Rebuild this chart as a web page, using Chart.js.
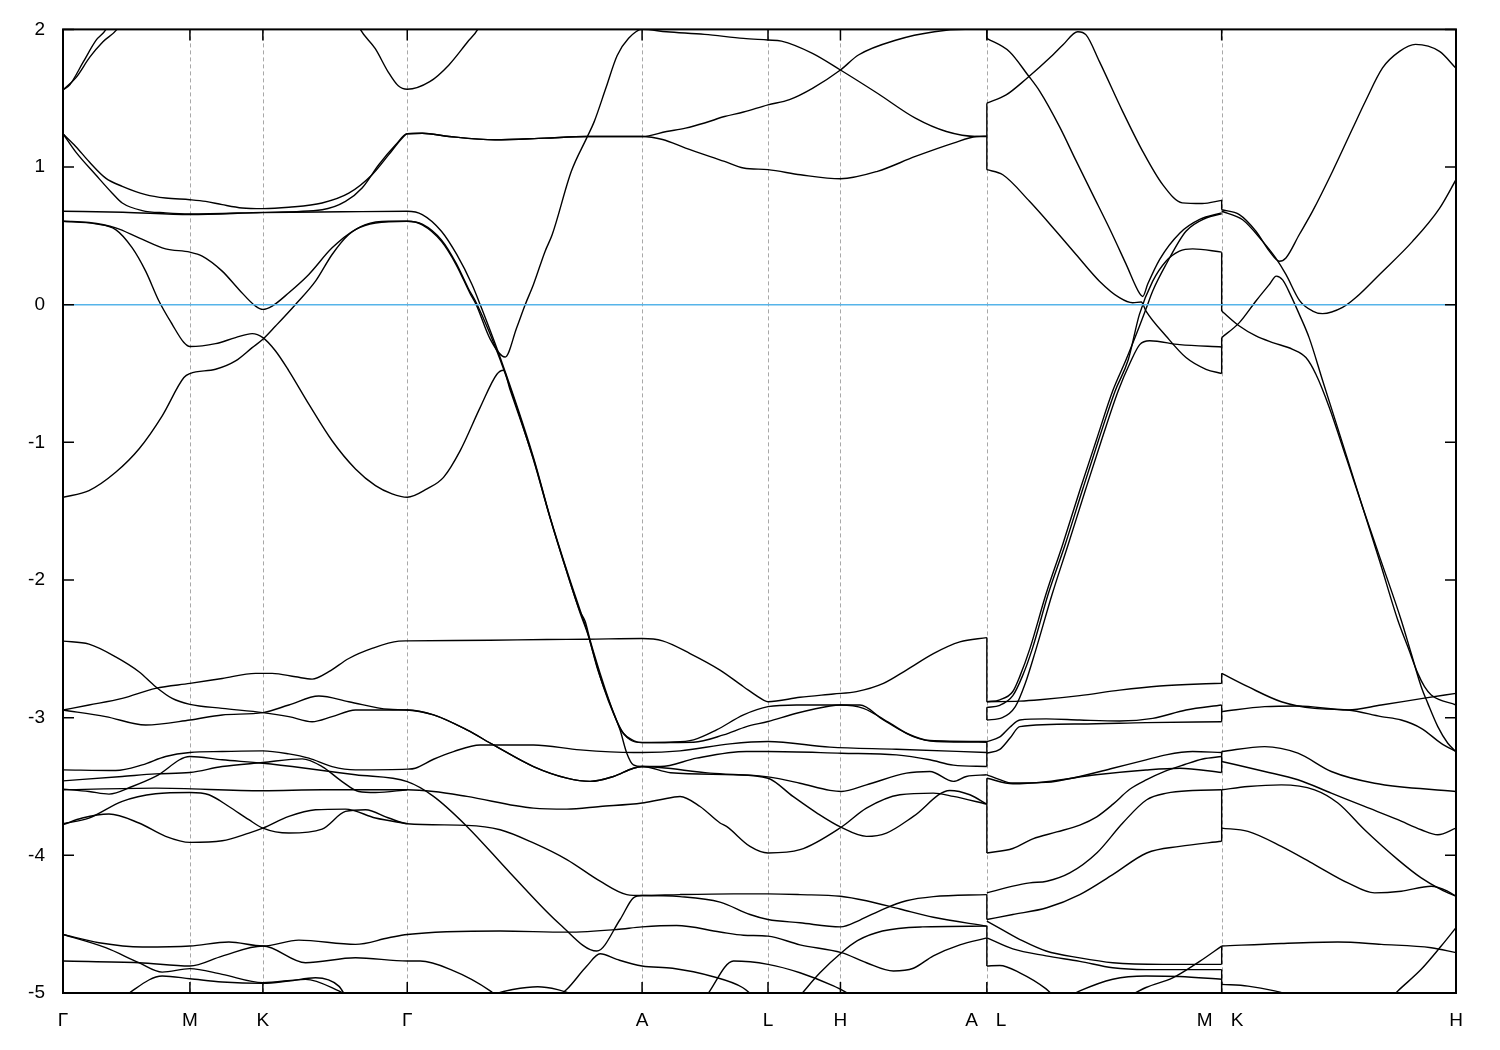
<!DOCTYPE html>
<html lang="en">
<head>
<meta charset="UTF-8">
<title>Band structure</title>
<script src="https://cdn.jsdelivr.net/npm/chart.js@4.4.1/dist/chart.umd.min.js"></script>
<style>
  html, body { margin: 0; padding: 0; background: #fff; }
  #wrap { width: 1500px; height: 1050px; }
</style>
</head>
<body>
<div id="wrap"><canvas id="bands"></canvas></div>
<script>
// high symmetry points along the k path (path length units)
const kTicks = [0, 1.27, 2.0, 3.445, 5.795, 7.055, 7.78, 9.245, 11.595, 13.94];
const kLabels = ["Γ", "M", "K", "Γ", "A", "L", "H", "A|L", "M|K", "H"];
const yTicks = [2, 1, 0, -1, -2, -3, -4, -5];
const fermiLevel = 0;

// ---- Γ-M-K-Γ-A-L-H-A (energies in eV) ----
const bandT1 = [[0,1.56],[0.07,1.6],[0.2,1.76],[0.33,1.92],[0.43,2.0],[0.5,2.12]];
const bandT2 = [[0,1.56],[0.13,1.65],[0.27,1.8],[0.4,1.91],[0.54,2.0],[0.62,2.1]];
const bandT3 = [[2.9,2.12],[2.975,2.0],[3.125,1.86],[3.255,1.69],[3.355,1.59],[3.445,1.565],[3.67,1.62],[3.86,1.74],[4.05,1.91],[4.15,2.0],[4.22,2.12]];
const bandU1 = [[0,1.242],[0.127,1.15],[0.26,1.04],[0.427,0.92],[0.593,0.86],[0.827,0.80],[1.027,0.775],[1.27,0.763],[1.427,0.751],[1.593,0.727],[1.793,0.703],[2.0,0.698],[2.26,0.708],[2.593,0.739],[2.86,0.81],[3.093,0.944],[3.26,1.09],[3.393,1.21],[3.445,1.242],[3.595,1.246],[3.863,1.222],[4.322,1.198],[4.819,1.21],[5.24,1.222],[5.795,1.222],[6.04,1.258],[6.23,1.283],[6.42,1.32],[6.62,1.367],[6.81,1.40],[7.055,1.452],[7.27,1.49],[7.5,1.572],[7.78,1.705],[7.96,1.814],[8.34,1.923],[8.72,1.983],[9.03,2.0],[9.245,2.0]];
const bandU2 = [[0,1.242],[0.127,1.11],[0.327,0.944],[0.493,0.81],[0.593,0.739],[0.793,0.684],[1.027,0.667],[1.27,0.659],[2.0,0.671],[2.593,0.69],[2.827,0.75],[2.993,0.848],[3.16,1.017],[3.327,1.16],[3.445,1.242],[3.595,1.246],[3.863,1.222],[4.322,1.198],[4.819,1.21],[5.24,1.222],[5.795,1.222],[6.0,1.2],[6.23,1.138],[6.62,1.041],[6.81,0.993],[7.055,0.981],[7.38,0.944],[7.78,0.915],[8.15,0.969],[8.53,1.077],[8.91,1.174],[9.14,1.222],[9.245,1.225]];
const bandF = [[0,0.679],[0.6,0.672],[1.27,0.655],[2.0,0.669],[2.8,0.675],[3.445,0.679],[3.595,0.655],[3.787,0.534],[3.94,0.365],[4.093,0.147],[4.175,0.0],[4.375,-0.384],[4.708,-1.109],[4.875,-1.543],[5.042,-1.93],[5.175,-2.22],[5.242,-2.364],[5.308,-2.534],[5.408,-2.775],[5.508,-2.968],[5.608,-3.113],[5.708,-3.166],[5.795,-3.181],[6.075,-3.178],[6.31,-3.161],[6.54,-3.089],[6.81,-2.98],[7.055,-2.92],[7.34,-2.908],[7.78,-2.908],[7.975,-2.908],[8.21,-3.016],[8.44,-3.113],[8.675,-3.166],[9.245,-3.173]];
const bandV1 = [[0,0.606],[0.26,0.597],[0.527,0.558],[0.76,0.486],[1.027,0.406],[1.27,0.382],[1.393,0.353],[1.593,0.244],[1.76,0.111],[1.927,-0.01],[2.0,-0.034],[2.093,-0.01],[2.26,0.087],[2.46,0.22],[2.693,0.413],[2.927,0.546],[3.127,0.594],[3.445,0.606],[3.595,0.585],[3.787,0.47],[3.935,0.3],[4.055,0.12],[4.145,0.0],[4.375,-0.40],[4.705,-1.12],[4.875,-1.55],[5.045,-1.95],[5.175,-2.24],[5.255,-2.40],[5.355,-2.66],[5.475,-2.90],[5.575,-3.08],[5.675,-3.16],[5.795,-3.18],[6.31,-3.178],[6.61,-3.125],[6.84,-3.065],[7.055,-3.028],[7.34,-2.968],[7.675,-2.915],[7.78,-2.908],[8.01,-2.932],[8.275,-3.04],[8.51,-3.137],[8.74,-3.173],[9.245,-3.178]];
const bandV2 = [[0,0.606],[0.327,0.587],[0.527,0.546],[0.693,0.413],[0.827,0.244],[0.96,0.027],[1.093,-0.143],[1.21,-0.275],[1.27,-0.304],[1.527,-0.283],[1.727,-0.239],[1.893,-0.21],[2.0,-0.239],[2.127,-0.336],[2.26,-0.48],[2.46,-0.722],[2.693,-0.988],[2.927,-1.193],[3.127,-1.314],[3.293,-1.374],[3.445,-1.399],[3.642,-1.338],[3.808,-1.254],[3.975,-1.06],[4.175,-0.746],[4.342,-0.505],[4.408,-0.476],[4.475,-0.62],[4.708,-1.12],[4.875,-1.55],[5.042,-1.94],[5.175,-2.23],[5.225,-2.30],[5.275,-2.437],[5.375,-2.678],[5.475,-2.896],[5.575,-3.09],[5.642,-3.258],[5.708,-3.343],[5.795,-3.355],[5.98,-3.355],[6.34,-3.294],[6.84,-3.246],[7.055,-3.246],[7.79,-3.258],[8.34,-3.27],[8.675,-3.306],[8.91,-3.345],[9.245,-3.355]];
const bandV3 = [[0,-1.399],[0.26,-1.35],[0.527,-1.217],[0.76,-1.048],[0.993,-0.807],[1.21,-0.529],[1.27,-0.5],[1.527,-0.469],[1.727,-0.408],[1.893,-0.312],[2.0,-0.251],[2.127,-0.155],[2.327,0.002],[2.527,0.171],[2.693,0.365],[2.86,0.51],[3.027,0.582],[3.26,0.606],[3.445,0.606],[3.595,0.58],[3.787,0.46],[3.935,0.29],[4.075,0.08],[4.135,0.0],[4.275,-0.25],[4.425,-0.38],[4.54,-0.167],[4.625,0.0],[4.708,0.147],[4.825,0.389],[4.896,0.51],[5.087,0.969],[5.24,1.21],[5.316,1.33],[5.431,1.57],[5.546,1.81],[5.66,1.935],[5.795,2.0],[6.04,1.983],[6.42,1.964],[6.81,1.935],[7.055,1.923],[7.19,1.915],[7.5,1.826],[7.78,1.705],[8.15,1.536],[8.53,1.355],[8.84,1.258],[9.14,1.222],[9.245,1.222]];
const bandL1 = [[0,-2.444],[0.26,-2.466],[0.527,-2.558],[0.76,-2.666],[0.927,-2.775],[1.093,-2.86],[1.27,-2.903],[1.593,-2.932],[2.0,-2.963],[2.26,-2.992],[2.493,-3.029],[2.693,-2.992],[2.927,-2.944],[3.193,-2.944],[3.445,-2.944],[3.708,-2.98],[4.042,-3.089],[4.308,-3.198],[4.708,-3.355],[5.042,-3.439],[5.275,-3.463],[5.508,-3.427],[5.708,-3.367],[5.795,-3.355],[6.08,-3.40],[6.71,-3.415],[7.055,-3.44],[7.305,-3.572],[7.545,-3.693],[7.78,-3.794],[8.04,-3.862],[8.24,-3.838],[8.51,-3.717],[8.875,-3.529],[9.075,-3.56],[9.245,-3.628]];
const bandL2 = [[0,-2.944],[0.26,-2.908],[0.593,-2.86],[0.927,-2.787],[1.27,-2.751],[1.593,-2.715],[1.927,-2.678],[2.093,-2.678],[2.327,-2.703],[2.493,-2.72],[2.66,-2.666],[2.86,-2.57],[3.093,-2.497],[3.36,-2.444],[3.445,-2.442],[4.275,-2.437],[4.842,-2.432],[5.242,-2.43],[5.795,-2.425],[6.0,-2.442],[6.275,-2.534],[6.575,-2.654],[6.81,-2.775],[7.01,-2.872],[7.055,-2.884],[7.375,-2.852],[7.71,-2.828],[7.94,-2.811],[8.21,-2.751],[8.44,-2.654],[8.71,-2.534],[8.975,-2.449],[9.245,-2.418]];
const bandL3 = [[0,-2.944],[0.427,-2.992],[0.827,-3.053],[1.27,-3.017],[1.593,-2.98],[2.0,-2.963],[2.26,-2.908],[2.56,-2.843],[2.86,-2.884],[3.26,-2.939],[3.445,-2.944],[3.708,-2.98],[4.042,-3.089],[4.308,-3.198],[4.708,-3.355],[5.042,-3.439],[5.275,-3.463],[5.508,-3.427],[5.708,-3.367],[5.795,-3.355],[6.475,-3.403],[7.055,-3.43],[7.375,-3.476],[7.675,-3.528],[7.79,-3.536],[8.04,-3.488],[8.44,-3.403],[8.675,-3.391],[8.91,-3.463],[9.04,-3.427],[9.245,-3.415]];
const bandL4 = [[0,-3.379],[0.527,-3.384],[0.793,-3.343],[1.027,-3.282],[1.27,-3.253],[1.593,-3.246],[2.0,-3.241],[2.26,-3.263],[2.46,-3.294],[2.693,-3.355],[2.927,-3.379],[3.445,-3.374],[3.525,-3.367],[3.708,-3.302],[3.908,-3.246],[4.175,-3.198],[4.708,-3.198],[5.175,-3.234],[5.708,-3.253],[5.795,-3.253],[6.175,-3.241],[6.675,-3.19],[7.055,-3.173],[7.675,-3.214],[8.34,-3.229],[9.245,-3.253]];
const bandL5 = [[0,-3.459],[0.593,-3.427],[0.927,-3.408],[1.27,-3.398],[1.593,-3.355],[2.0,-3.326],[2.393,-3.299],[2.593,-3.355],[2.793,-3.464],[2.96,-3.536],[3.127,-3.543],[3.445,-3.524]];
const bandL6 = [[0,-3.519],[0.26,-3.536],[0.46,-3.555],[0.693,-3.5],[0.927,-3.427],[1.27,-3.282],[1.593,-3.306],[2.0,-3.331],[2.427,-3.367],[2.927,-3.415],[3.445,-3.465],[3.708,-3.572],[4.042,-3.79],[4.475,-4.128],[4.975,-4.502],[5.342,-4.695],[5.575,-4.466],[5.708,-4.309],[5.795,-4.292],[6.175,-4.30],[6.575,-4.34],[6.875,-4.43],[7.055,-4.466],[7.375,-4.49],[7.78,-4.52],[7.975,-4.47],[8.21,-4.39],[8.44,-4.33],[8.71,-4.30],[9.245,-4.285]];
const bandL7 = [[0,-3.524],[0.927,-3.512],[2.0,-3.531],[2.593,-3.524],[3.445,-3.524],[3.708,-3.536],[4.042,-3.572],[4.708,-3.657],[5.042,-3.664],[5.375,-3.645],[5.795,-3.62],[5.975,-3.596],[6.175,-3.572],[6.375,-3.645],[6.575,-3.765],[6.64,-3.79],[6.875,-3.935],[7.055,-3.983],[7.375,-3.959],[7.79,-3.794],[8.04,-3.657],[8.375,-3.56],[8.71,-3.548],[8.91,-3.572],[9.245,-3.628]];
const bandL8 = [[0,-3.77],[0.26,-3.729],[0.593,-3.608],[0.927,-3.553],[1.27,-3.543],[1.46,-3.56],[1.66,-3.645],[1.86,-3.741],[2.0,-3.802],[2.26,-3.838],[2.593,-3.809],[2.827,-3.681],[3.027,-3.669],[3.26,-3.729],[3.445,-3.77],[4.042,-3.782],[4.375,-3.814],[4.708,-3.91],[5.042,-4.031],[5.375,-4.188],[5.642,-4.285],[5.795,-4.292],[6.175,-4.285],[6.71,-4.28],[7.055,-4.28],[7.375,-4.285],[7.78,-4.297],[8.04,-4.33],[8.375,-4.39],[8.71,-4.45],[9.245,-4.514]];
const bandL9 = [[0,-3.777],[0.193,-3.729],[0.46,-3.7],[0.76,-3.765],[1.027,-3.862],[1.27,-3.906],[1.593,-3.894],[1.86,-3.838],[2.0,-3.802],[2.26,-3.717],[2.527,-3.669],[2.827,-3.664],[3.127,-3.729],[3.445,-3.77]];
const bandL10 = [[0,-4.575],[0.36,-4.635],[0.793,-4.666],[1.27,-4.659],[1.66,-4.63],[2.0,-4.659],[2.36,-4.616],[2.927,-4.647],[3.26,-4.599],[3.445,-4.575],[4.375,-4.55],[5.042,-4.558],[5.542,-4.539],[5.795,-4.52],[6.14,-4.51],[6.575,-4.557],[6.81,-4.58],[7.055,-4.587],[7.375,-4.65],[7.79,-4.707],[8.04,-4.78],[8.31,-4.84],[8.51,-4.82],[8.71,-4.73],[8.975,-4.65],[9.245,-4.60]];
const bandL11 = [[0,-4.575],[0.427,-4.671],[0.76,-4.78],[0.993,-4.848],[1.27,-4.823],[1.593,-4.865],[2.0,-4.925],[2.427,-4.901],[2.76,-4.985],[2.927,-5.05]];
const bandL12 = [[0,-4.768],[0.76,-4.78],[1.27,-4.804],[1.593,-4.732],[2.0,-4.659],[2.427,-4.78],[2.927,-4.744],[3.445,-4.768],[3.575,-4.768],[3.875,-4.828],[4.275,-4.985],[4.375,-5.05]];
const bandL13 = [[0.593,-5.05],[0.693,-4.985],[0.993,-4.877],[1.27,-4.896],[1.593,-4.92],[2.0,-4.93],[2.26,-4.913],[2.527,-4.889],[2.76,-4.95],[2.85,-5.05]];
const bandM9 = [[4.908,-5.05],[5.042,-4.973],[5.242,-4.804],[5.375,-4.715],[5.542,-4.756],[5.795,-4.804],[6.1,-4.82],[6.5,-4.88],[6.8,-4.96],[6.95,-5.05]];
const bandBump = [[4.3,-5.01],[4.5,-4.975],[4.75,-4.955],[4.95,-4.975],[5.1,-5.01]];
const bandN1 = [[6.44,-5.02],[6.71,-4.768],[7.055,-4.792],[7.375,-4.853],[7.71,-4.949],[7.9,-5.02]];
const bandN2 = [[7.375,-5.02],[7.575,-4.853],[7.79,-4.707],[7.95,-4.62],[8.2,-4.55],[8.6,-4.52],[9.245,-4.514]];

// ---- L-M ----
const bandY1 = [[9.245,1.935],[9.472,1.838],[9.655,1.669],[9.775,1.55],[9.975,1.29],[10.135,1.05],[10.305,0.80],[10.475,0.55],[10.635,0.30],[10.775,0.08],[10.805,0.06],[10.855,0.15],[10.975,0.33],[11.175,0.52],[11.375,0.62],[11.595,0.667]];
const bandY2 = [[9.245,1.464],[9.438,1.524],[9.638,1.64],[9.905,1.814],[10.005,1.886],[10.155,1.983],[10.238,1.96],[10.372,1.766],[10.605,1.403],[10.805,1.114],[11.005,0.872],[11.2,0.74],[11.4,0.735],[11.595,0.758]];
const bandY3 = [[9.245,0.981],[9.405,0.944],[9.672,0.751],[9.938,0.534],[10.138,0.365],[10.372,0.171],[10.572,0.051],[10.705,0.014],[10.79,0.02],[10.838,-0.046],[11.038,-0.227],[11.238,-0.384],[11.438,-0.469],[11.595,-0.50]];
const bandZ1 = [[9.245,-2.884],[9.375,-2.87],[9.505,-2.81],[9.575,-2.70],[9.675,-2.50],[9.838,-2.10],[10.005,-1.74],[10.175,-1.35],[10.338,-0.99],[10.505,-0.625],[10.638,-0.40],[10.77,-0.16],[10.838,-0.03],[10.905,0.1],[11.038,0.292],[11.238,0.534],[11.438,0.63],[11.595,0.66]];
const bandZ3 = [[9.245,-2.925],[9.375,-2.91],[9.505,-2.84],[9.6,-2.70],[9.7,-2.50],[9.86,-2.10],[10.03,-1.74],[10.2,-1.35],[10.36,-0.99],[10.53,-0.625],[10.66,-0.40],[10.772,-0.07],[10.905,0.171],[11.038,0.316],[11.172,0.389],[11.305,0.406],[11.595,0.382]];
const bandZ4 = [[9.245,-3.017],[9.4,-3.0],[9.53,-2.92],[9.63,-2.75],[9.73,-2.52],[9.9,-2.10],[10.06,-1.74],[10.23,-1.35],[10.39,-0.99],[10.56,-0.625],[10.68,-0.42],[10.775,-0.29],[10.875,-0.262],[11.175,-0.29],[11.595,-0.307]];
const bandG1 = [[9.245,-2.884],[9.575,-2.88],[9.775,-2.87],[10.175,-2.84],[10.575,-2.80],[10.975,-2.77],[11.375,-2.755],[11.595,-2.751]];
const bandG2 = [[9.245,-3.174],[9.375,-3.14],[9.475,-3.07],[9.575,-3.017],[9.838,-3.009],[10.175,-3.017],[10.575,-3.024],[10.905,-3.005],[11.238,-2.944],[11.595,-2.908]];
const bandG3 = [[9.245,-3.258],[9.375,-3.23],[9.475,-3.15],[9.575,-3.065],[10.175,-3.046],[10.838,-3.036],[11.595,-3.029]];
const bandH1 = [[9.245,-3.415],[9.375,-3.45],[9.5,-3.475],[9.838,-3.47],[10.175,-3.427],[10.505,-3.367],[10.838,-3.306],[11.038,-3.27],[11.305,-3.246],[11.595,-3.253]];
const bandH2 = [[9.245,-3.44],[9.505,-3.48],[9.838,-3.465],[10.338,-3.415],[10.838,-3.38],[11.175,-3.367],[11.595,-3.398]];
const bandH3 = [[9.245,-3.983],[9.505,-3.95],[9.705,-3.88],[9.945,-3.83],[10.175,-3.78],[10.345,-3.72],[10.505,-3.63],[10.675,-3.52],[10.845,-3.45],[11.025,-3.39],[11.225,-3.34],[11.405,-3.30],[11.595,-3.282]];
const bandH4 = [[9.245,-4.273],[9.505,-4.224],[9.675,-4.20],[9.845,-4.188],[10.075,-4.128],[10.345,-3.983],[10.605,-3.765],[10.845,-3.596],[11.045,-3.548],[11.305,-3.529],[11.595,-3.524]];
const bandH5 = [[9.245,-4.466],[9.505,-4.43],[9.845,-4.381],[10.175,-4.285],[10.505,-4.14],[10.845,-3.983],[11.175,-3.935],[11.595,-3.898]];
const bandJ1 = [[9.245,-4.478],[9.375,-4.53],[9.6,-4.62],[9.838,-4.695],[10.175,-4.745],[10.505,-4.78],[11.005,-4.792],[11.595,-4.792]];
const bandJ2 = [[9.245,-4.599],[9.505,-4.68],[9.838,-4.73],[10.175,-4.77],[10.505,-4.817],[10.838,-4.83],[11.595,-4.83]];
const bandJ3 = [[9.245,-4.804],[9.375,-4.80],[9.575,-4.853],[9.838,-4.97],[9.95,-5.05]];
const bandJ3b = [[10.0,-5.05],[10.175,-4.985],[10.505,-4.9],[10.838,-4.876],[11.175,-4.88],[11.595,-4.9]];
const bandJ4 = [[10.6,-5.05],[10.838,-4.96],[11.105,-4.89],[11.375,-4.77],[11.595,-4.659]];

// ---- K-H ----
const bandK1 = [[11.595,0.69],[11.772,0.655],[11.938,0.534],[12.072,0.389],[12.172,0.316],[12.238,0.34],[12.372,0.51],[12.505,0.68],[12.705,0.97],[12.905,1.28],[13.035,1.48],[13.205,1.72],[13.375,1.84],[13.535,1.891],[13.775,1.84],[13.94,1.717]];
const bandK2 = [[11.595,0.679],[11.805,0.617],[12.005,0.46],[12.135,0.34],[12.238,0.22],[12.375,0.03],[12.505,-0.046],[12.605,-0.065],[12.805,-0.02],[12.935,0.05],[13.175,0.22],[13.505,0.46],[13.775,0.70],[13.94,0.908]];
const bandK3 = [[11.595,-0.239],[11.772,-0.13],[11.938,0.027],[12.072,0.147],[12.142,0.208],[12.205,0.18],[12.285,0.07],[12.372,-0.07],[12.47,-0.239],[12.605,-0.55],[12.845,-1.1],[13.005,-1.47],[13.175,-1.86],[13.358,-2.292],[13.458,-2.485],[13.558,-2.678],[13.625,-2.775],[13.692,-2.835],[13.94,-2.908]];
const bandK4 = [[11.595,-0.046],[11.772,-0.155],[11.938,-0.227],[12.105,-0.275],[12.305,-0.324],[12.438,-0.384],[12.538,-0.505],[12.672,-0.746],[12.845,-1.12],[13.005,-1.47],[13.175,-1.83],[13.392,-2.292],[13.492,-2.534],[13.592,-2.775],[13.658,-2.896],[13.758,-3.065],[13.858,-3.186],[13.94,-3.246]];
const bandK5 = [[11.595,-2.678],[11.858,-2.775],[12.192,-2.884],[12.525,-2.932],[12.858,-2.944],[13.192,-2.992],[13.392,-3.017],[13.592,-3.077],[13.792,-3.186],[13.94,-3.246]];
const bandK6 = [[11.595,-2.956],[12.025,-2.92],[12.358,-2.915],[12.858,-2.944],[13.192,-2.908],[13.608,-2.86],[13.94,-2.823]];
const bandK7 = [[11.595,-3.246],[12.025,-3.21],[12.358,-3.258],[12.692,-3.391],[13.125,-3.476],[13.94,-3.536]];
const bandK8 = [[11.595,-3.318],[12.025,-3.391],[12.358,-3.451],[12.692,-3.548],[13.025,-3.645],[13.358,-3.741],[13.592,-3.814],[13.758,-3.85],[13.94,-3.802]];
const bandK9 = [[11.595,-3.524],[11.858,-3.5],[12.192,-3.488],[12.525,-3.524],[12.758,-3.62],[13.025,-3.814],[13.358,-4.031],[13.592,-4.164],[13.792,-4.249],[13.94,-4.297]];
const bandK10 = [[11.595,-3.802],[11.858,-3.826],[12.192,-3.935],[12.525,-4.067],[12.858,-4.2],[13.125,-4.273],[13.392,-4.261],[13.692,-4.224],[13.858,-4.261],[13.94,-4.297]];
const bandK11 = [[11.595,-4.659],[12.192,-4.64],[12.758,-4.63],[13.192,-4.647],[13.692,-4.671],[13.94,-4.707]];
const bandK12 = [[13.2,-5.1],[13.358,-4.985],[13.592,-4.828],[13.792,-4.659],[13.94,-4.526]];
const bandK13 = [[11.595,-4.937],[11.858,-4.95],[12.125,-4.985],[12.3,-5.02]];

// vertical jumps where the path is discontinuous: [E at end of left segment, E at start of right]
const jumpAL = [[2.0,1.935],[1.464,0.981],[-2.418,-2.884],[-2.925,-3.017],[-3.173,-3.355],[-3.44,-3.983],[-4.285,-4.466],[-4.514,-4.599],[-4.6,-4.804]];
const jumpMK = [[0.763,0.69],[0.382,-0.046],[-0.239,-0.50],[-2.678,-2.751],[-2.908,-3.029],[-3.246,-3.398],[-3.524,-3.898],[-4.659,-4.792],[-4.83,-4.937]];

const bands = [bandT1, bandT2, bandT3, bandU1, bandU2, bandF, bandV1, bandV2, bandV3,
  bandL1, bandL2, bandL3, bandL4, bandL5, bandL6, bandL7, bandL8, bandL9, bandL10, bandL11, bandL12, bandL13,
  bandM9, bandBump, bandN1, bandN2,
  bandY1, bandY2, bandY3, bandZ1, bandZ3, bandZ4, bandG1, bandG2, bandG3,
  bandH1, bandH2, bandH3, bandH4, bandH5, bandJ1, bandJ2, bandJ3, bandJ3b, bandJ4,
  bandK1, bandK2, bandK3, bandK4, bandK5, bandK6, bandK7, bandK8, bandK9, bandK10, bandK11, bandK12, bandK13];

const toXY = arr => arr.map(([x, y]) => ({ x, y }));
const lineStyle = { borderColor: "#000", borderWidth: 1.4, pointRadius: 0, fill: false };

const datasets = [];
// Fermi level first so it is drawn on top
datasets.push({ ...lineStyle, borderColor: "#56b4e9", borderWidth: 1.6, tension: 0,
  data: [{ x: kTicks[0], y: fermiLevel }, { x: kTicks[kTicks.length - 1], y: fermiLevel }] });
bands.forEach(b => datasets.push({ ...lineStyle, cubicInterpolationMode: "monotone", data: toXY(b) }));
jumpAL.forEach(([a, b]) => datasets.push({ ...lineStyle, tension: 0, data: [{ x: kTicks[7], y: a }, { x: kTicks[7], y: b }] }));
jumpMK.forEach(([a, b]) => datasets.push({ ...lineStyle, tension: 0, data: [{ x: kTicks[8], y: a }, { x: kTicks[8], y: b }] }));

const FONT = '"Liberation Sans", Arial, sans-serif';

// dashed lines at the symmetry points, drawn under the bands
const symLines = {
  id: "symLines",
  beforeDatasetsDraw(chart) {
    const { ctx, chartArea: a, scales: { x } } = chart;
    ctx.save();
    ctx.strokeStyle = "#a8a8a8";
    ctx.lineWidth = 1;
    ctx.setLineDash([4, 3]);
    kTicks.slice(1, -1).forEach(v => {
      const p = Math.round(x.getPixelForValue(v)) + 0.5;
      ctx.beginPath();
      ctx.moveTo(p, a.top);
      ctx.lineTo(p, a.bottom);
      ctx.stroke();
    });
    ctx.restore();
  }
};

// gnuplot-like frame, mirrored tics and the k-point labels
const frame = {
  id: "frame",
  afterDatasetsDraw(chart) {
    const { ctx, chartArea: a, scales: { x, y } } = chart;
    ctx.save();
    ctx.strokeStyle = "#000";
    ctx.lineWidth = 2;
    ctx.strokeRect(a.left, a.top, a.right - a.left, a.bottom - a.top);
    ctx.lineWidth = 1.5;
    ctx.beginPath();
    yTicks.forEach(v => {
      const p = y.getPixelForValue(v);
      ctx.moveTo(a.left, p); ctx.lineTo(a.left + 11, p);
      ctx.moveTo(a.right, p); ctx.lineTo(a.right - 11, p);
    });
    kTicks.slice(1, -1).forEach(v => {
      const p = x.getPixelForValue(v);
      ctx.moveTo(p, a.bottom); ctx.lineTo(p, a.bottom - 11);
      ctx.moveTo(p, a.top); ctx.lineTo(p, a.top + 11);
    });
    ctx.stroke();

    ctx.fillStyle = "#000";
    ctx.font = "19px " + FONT;
    ctx.textBaseline = "middle";
    const ly = a.bottom + 28;
    kLabels.forEach((t, i) => {
      const p = x.getPixelForValue(kTicks[i]);
      const parts = t.split("|");
      if (parts.length === 2) {
        ctx.textAlign = "right"; ctx.fillText(parts[0], p - 9, ly);
        ctx.textAlign = "left"; ctx.fillText(parts[1], p + 9, ly);
      } else {
        ctx.textAlign = "center"; ctx.fillText(t, p, ly);
      }
    });
    ctx.restore();
  }
};

new Chart(document.getElementById("bands"), {
  type: "line",
  data: { datasets },
  options: {
    responsive: true,
    maintainAspectRatio: false,
    animation: false,
    layout: { padding: { left: 0, right: 44, top: 28, bottom: 0 } },
    plugins: { legend: { display: false }, tooltip: { enabled: false } },
    scales: {
      x: {
        type: "linear",
        min: kTicks[0],
        max: kTicks[kTicks.length - 1],
        grid: { display: false },
        border: { display: false },
        ticks: { display: false },
        afterFit: s => { s.height = 57; }
      },
      y: {
        min: -5,
        max: 2,
        grid: { display: false, drawTicks: false },
        border: { display: false },
        ticks: { stepSize: 1, color: "#000", padding: 18, font: { family: FONT, size: 19 } },
        afterFit: s => { s.width = 63; }
      }
    }
  },
  plugins: [symLines, frame]
});
</script>
</body>
</html>
